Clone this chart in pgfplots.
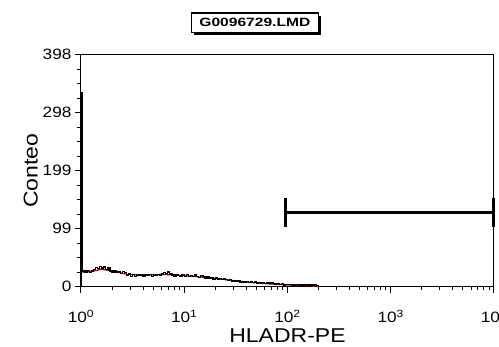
\documentclass[border=0pt]{standalone}
\usepackage{fontspec}
\setmainfont{Liberation Sans}[FakeStretch=1.15]
\newfontfamily\titlefont{Liberation Sans}[FakeStretch=1.3]
\usepackage{pgfplots}
\pgfplotsset{compat=1.18}
\usetikzlibrary{shadows}

\definecolor{gatered}{RGB}{165,0,0}

% HLADR-PE histogram: x in decades (log10 of channel value), y = events per channel
\pgfplotstableread{
d      n
0.000  0
0.000  333
0.015  27
0.040  25
0.060  28
0.080  24
0.100  27
0.120  30
0.140  33
0.160  31
0.180  35
0.200  32
0.220  34
0.240  30
0.260  33
0.280  27
0.300  25
0.320  28
0.340  24
0.360  26
0.380  23
0.400  26
0.420  24
0.440  19
0.460  22
0.480  18
0.500  21
0.520  18
0.540  20
0.560  19
0.580  21
0.600  18
0.620  20
0.640  19
0.660  21
0.680  18
0.700  20
0.720  19
0.740  21
0.760  20
0.780  22
0.800  24
0.820  23
0.840  25
0.860  22
0.880  20
0.900  18
0.920  21
0.940  19
0.960  17
0.980  20
1.000  18
1.020  21
1.040  18
1.060  19
1.080  17
1.100  20
1.120  18
1.140  16
1.160  19
1.180  17
1.200  15
1.220  17
1.240  14
1.260  15
1.280  13
1.300  15
1.320  13
1.340  14
1.360  12
1.380  13
1.400  12
1.420  11
1.440  12
1.460  10
1.480  11
1.500  9
1.520  10
1.540  8
1.560  9
1.580  8
1.600  9
1.620  7
1.640  8
1.660  7
1.680  8
1.700  6
1.720  7
1.740  6
1.760  7
1.780  5
1.800  6
1.820  5
1.840  6
1.860  5
1.880  4
1.900  5
1.920  4
1.940  5
1.960  3
1.980  4
2.000  4
2.040  3
2.080  4
2.120  3
2.160  4
2.200  3
2.240  3
2.280  2
2.300  0
2.320  0
}\histdata

% smoothed overlay
\pgfplotstableread{
d     n
0.00  25
0.10  26
0.20  30
0.30  27
0.45  21
0.60  20
0.80  21
1.00  19
1.20  16
1.40  12
1.60  8
1.80  5
2.00  3
2.20  2
2.30  0
}\smoothdata

\begin{document}
\begin{tikzpicture}
\begin{axis}[
  name=ax,
  scale only axis,
  width=413pt, height=232pt,
  xmin=0, xmax=4, ymin=0, ymax=398,
  clip=false,
  axis line style={line width=1pt},
  tick align=outside,
  tick pos=left,
  major tick length=6pt,
  minor tick length=3.5pt,
  every tick/.style={black, line width=1pt},
  xtick={0,1,2,3,4},
  xticklabels={10\textsuperscript{0},10\textsuperscript{1},10\textsuperscript{2},10\textsuperscript{3},10\textsuperscript{4}},
  minor xtick={0.301,0.477,0.602,0.699,0.778,0.845,0.903,0.954,
               1.301,1.477,1.602,1.699,1.778,1.845,1.903,1.954,
               2.301,2.477,2.602,2.699,2.778,2.845,2.903,2.954,
               3.301,3.477,3.602,3.699,3.778,3.845,3.903,3.954},
  ytick={0,99.5,199,298.5,398},
  yticklabels={0,99,199,298,398},
  minor ytick={24.9,49.75,74.6,124.4,149.25,174.1,223.9,248.75,273.6,323.4,348.25,373.1},
  /pgf/number format/assume math mode=true,
  ticklabel style={font=\fontsize{15}{17}\selectfont},
  xticklabel style={yshift=-14pt},
  xlabel={HLADR-PE},
  ylabel={Conteo},
  label style={font=\fontsize{20}{22}\selectfont},
  xlabel style={yshift=1pt},
  ylabel style={yshift=-2pt},
]
\addplot[gatered, line width=1.2pt] table[x=d, y=n] {\smoothdata};
\addplot[black, line width=1.4pt, const plot mark left] table[x=d, y=n] {\histdata};
% region marker
\addplot[black, line width=3pt] coordinates {(1.98,128) (4,128)};
\addplot[black, line width=3pt] coordinates {(1.98,103) (1.98,153)};
\addplot[black, line width=3pt] coordinates {(4,103) (4,153)};
\node[draw, line width=1.3pt, fill=white, inner xsep=8pt, inner ysep=5.5pt,
      drop shadow={shadow xshift=3pt, shadow yshift=-3pt, fill=black, opacity=1},
      font=\titlefont\bfseries\fontsize{12}{14}\selectfont]
  at (rel axis cs:0.421,1.138) {G0096729.LMD};
\end{axis}
\pgfresetboundingbox
\path[use as bounding box] ([xshift=-81pt, yshift=-60.3pt]ax.south west) rectangle ++(499pt,347pt);
\end{tikzpicture}
\end{document}
